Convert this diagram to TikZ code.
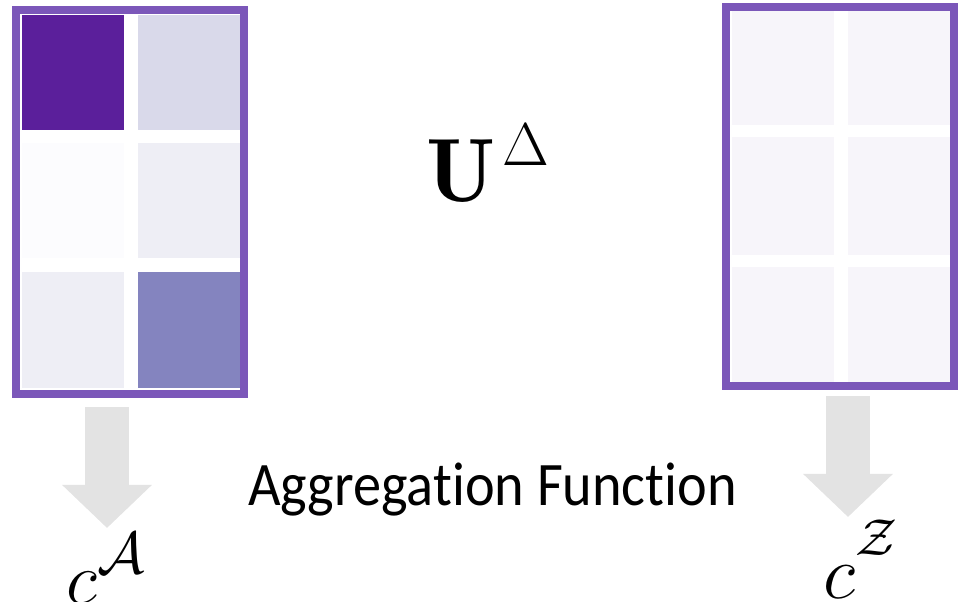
\documentclass[tikz,border=0pt]{standalone}
\usepackage{fix-cm}
\usepackage{amsmath}
\usepackage{graphicx}
\usepackage{fontspec}
\newfontfamily\labelfont{Carlito}[Ligatures=NoCommon]
\usetikzlibrary{arrows.meta}
\definecolor{frame}{HTML}{7B57B9}
\definecolor{heavy}{HTML}{5B1F9B}
\definecolor{medium}{HTML}{8484BF}
\definecolor{light}{HTML}{D9D9EA}
\definecolor{faint}{HTML}{EEEEF5}
\definecolor{blank}{HTML}{FCFCFE}
\definecolor{pale}{HTML}{F7F5FA}
\definecolor{arrowgray}{HTML}{E3E3E3}
% a base symbol with a hand-sized superscript: size, base, raise, sup size, sup
\newcommand{\bigsup}[5]{{\fontsize{#1}{#1}\selectfont$#2$}%
  \raisebox{#3}{\fontsize{#4}{#4}\selectfont$#5$}}
\tikzset{
    matframe/.style={draw=frame, line width=5.7pt},
    bigarrow/.style={arrowgray, line width=30.6pt,
        -{Triangle[length=30.6pt, width=62pt]}},
    mathlabel/.style={inner sep=0pt, anchor=base west},
    caption/.style={inner sep=0pt, anchor=base west,
        font=\labelfont\fontsize{44}{50}\selectfont}
}

\begin{document}
\begin{tikzpicture}[x=0.025cm,y=-0.025cm]
\useasboundingbox (0,0) rectangle (965,602);

% left matrix
\fill[heavy]  (22,15)   rectangle (124,130);
\fill[light]  (138,15)  rectangle (240,130);
\fill[blank]  (22,143)  rectangle (124,258);
\fill[faint]  (138,143) rectangle (240,258);
\fill[faint]  (22,272)  rectangle (124,388);
\fill[medium] (138,272) rectangle (240,388);
\draw[matframe] (16,10) rectangle (244,394);

% right matrix
\foreach \x in {732,848}
  \foreach \y/\yy in {10/125, 137/255, 267/385}
    \fill[pale] (\x,\y) rectangle ++(102,\yy-\y);
\draw[matframe] (726,7) rectangle (954,386);

% labels
\node[mathlabel] (delta) at (426,202)
  {\bigsup{64pt}{\mathbf{U}}{26pt}{43pt}{\mkern2mu\Delta}};
\node[caption] (agg) at (248,505) {\scalebox{0.91}[1]{Aggregation Function}};
\node[mathlabel] (cA) at (66,603)
  {\bigsup{52pt}{c}{21pt}{42pt}{\mathcal{A}}};
\node[mathlabel] (cZ) at (823,598)
  {\bigsup{54pt}{c}{30pt}{37pt}{\mathcal{Z}}};

% aggregation arrows
\coordinate (topA) at (107,407);
\coordinate (tipA) at (107,528);
\coordinate (topZ) at (848,396);
\coordinate (tipZ) at (848,517);
\draw[bigarrow] (topA) -- (tipA);
\draw[bigarrow] (topZ) -- (tipZ);
\end{tikzpicture}
\end{document}
